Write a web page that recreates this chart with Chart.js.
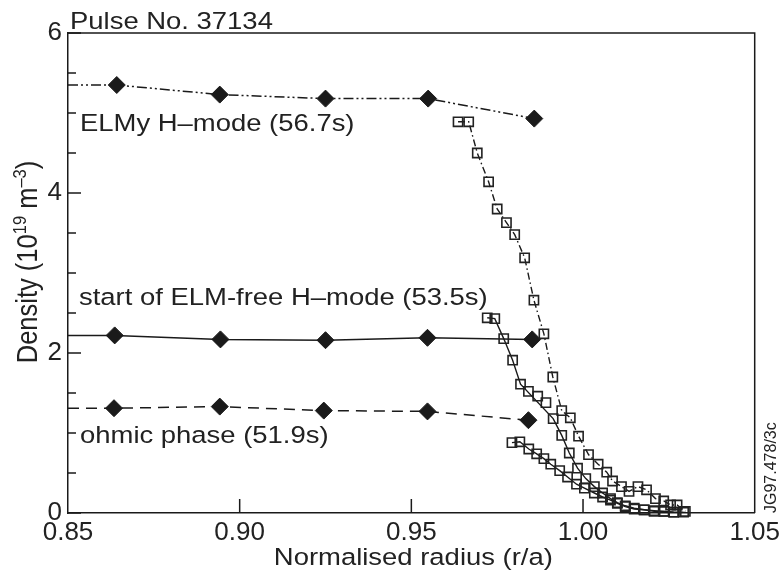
<!DOCTYPE html>
<html>
<head>
<meta charset="utf-8">
<script src="https://cdn.jsdelivr.net/npm/chart.js@4.4.1/dist/chart.umd.min.js"></script>
<style>
  body { margin: 0; background: #fff; }
  #wrap { width: 784px; height: 580px; }
</style>
</head>
<body>
<div id="wrap"><canvas id="grafico" width="784" height="580"></canvas></div>
<script>
// axis ticks
const xTicks = [0.85, 0.90, 0.95, 1.00, 1.05];
const xTickLabels = ['0.85', '0.90', '0.95', '1.00', '1.05'];
const yTicks = [0, 2, 4, 6];
const yTickLabels = ['0', '2', '4', '6'];
const yMinorTicks = [0.5, 1, 1.5, 2.5, 3, 3.5, 4.5, 5, 5.5];

// diamonds (first entry is where the line meets the axis, no marker)
const elmyDiamondX = [0.85, 0.8642, 0.8942, 0.9250, 0.9549, 0.9858];
const elmyDiamondY = [5.35, 5.35, 5.23, 5.18, 5.18, 4.93];
const freeDiamondX = [0.85, 0.8636, 0.8944, 0.9250, 0.9547, 0.9852];
const freeDiamondY = [2.22, 2.22, 2.17, 2.16, 2.19, 2.17];
const ohmicDiamondX = [0.85, 0.8634, 0.8942, 0.9245, 0.9547, 0.9841];
const ohmicDiamondY = [1.31, 1.31, 1.33, 1.28, 1.27, 1.16];

// edge profile squares
const elmySquareX = [0.9636, 0.9667, 0.9692, 0.9725, 0.9750, 0.9777, 0.9801, 0.9830, 0.9857, 0.9886,
  0.9912, 0.9938, 0.9963, 0.9987, 1.0016, 1.0044, 1.0069, 1.0086, 1.0112, 1.0134,
  1.0160, 1.0185, 1.0211, 1.0235, 1.0255, 1.0274, 1.0298];
const elmySquareY = [4.89, 4.89, 4.50, 4.14, 3.80, 3.63, 3.48, 3.19, 2.66, 2.24,
  1.70, 1.28, 1.19, 0.96, 0.73, 0.61, 0.51, 0.40, 0.33, 0.27,
  0.33, 0.29, 0.18, 0.15, 0.10, 0.10, 0.02];

const freeSquareX = [0.9721, 0.9743, 0.9769, 0.9795, 0.9818, 0.9913, 0.9938, 0.9960, 0.9984, 1.0008,
  1.0033, 1.0057, 1.0080, 1.0100, 1.0123, 1.0149, 1.0178, 1.0207, 1.0236, 1.0264];
const freeSquareY = [2.44, 2.43, 2.18, 1.91, 1.61, 1.18, 0.97, 0.75, 0.56, 0.43,
  0.33, 0.25, 0.18, 0.13, 0.09, 0.06, 0.04, 0.03, 0.02, 0.01];
const freeExtraX = [0.9841, 0.9868, 0.9892];
const freeExtraY = [1.52, 1.46, 1.38];

const ohmicSquareX = [0.9793, 0.9816, 0.9842, 0.9865, 0.9886, 0.9906, 0.9932, 0.9955, 0.9981, 1.0004,
  1.0033, 1.0057, 1.0080, 1.0100, 1.0123, 1.0149, 1.0178, 1.0207, 1.0236, 1.0264, 1.0293];
const ohmicSquareY = [0.88, 0.89, 0.80, 0.74, 0.68, 0.61, 0.53, 0.45, 0.36, 0.31,
  0.25, 0.20, 0.16, 0.12, 0.08, 0.05, 0.04, 0.02, 0.02, 0.01, 0.01];

const anotacoes = [
  { texto: 'Pulse No. 37134', x: 70, y: 29 },
  { texto: 'ELMy H\u2013mode (56.7s)', x: 80, y: 131 },
  { texto: 'start of ELM-free H\u2013mode (53.5s)', x: 79, y: 305 },
  { texto: 'ohmic phase (51.9s)', x: 80, y: 443 }
];

const tinta = '#1a1a1a';
const fonte = '"Liberation Sans", Arial, Helvetica, sans-serif';
const esticar = 1.12; // the scanned figure is a bit wider than tall

function pontos(xs, ys) {
  return xs.map((x, i) => ({ x: x, y: ys[i] }));
}

function diamante(xs, ys, dash) {
  return {
    data: pontos(xs, ys),
    showLine: true,
    borderColor: tinta,
    borderWidth: 1.5,
    borderDash: dash,
    backgroundColor: tinta,
    pointStyle: 'rectRot',
    pointRadius: xs.map((x, i) => i === 0 ? 0 : 8.5),
    pointBorderWidth: 1,
    clip: false
  };
}

function quadrado(xs, ys, dash, linha) {
  return {
    data: pontos(xs, ys),
    showLine: linha,
    borderColor: tinta,
    borderWidth: 1.4,
    borderDash: dash,
    backgroundColor: 'rgba(0,0,0,0)',
    pointStyle: 'rect',
    pointRadius: 6.5,
    pointBorderWidth: 1.6,
    pointBorderColor: '#222',
    clip: false
  };
}

function texto(c, s, x, y, alinhar) {
  c.save();
  c.translate(x, y);
  c.scale(esticar, 1);
  c.textAlign = alinhar;
  c.fillText(s, 0, 0);
  c.restore();
}

const enfeites = {
  id: 'enfeites',
  afterDraw(chart) {
    const c = chart.ctx;
    const a = chart.chartArea;
    const sx = chart.scales.x;
    const sy = chart.scales.y;
    c.save();
    c.strokeStyle = tinta;
    c.lineWidth = 1.5;
    // frame top and right
    c.beginPath();
    c.moveTo(a.left, a.top);
    c.lineTo(a.right, a.top);
    c.lineTo(a.right, a.bottom);
    c.stroke();
    // inside ticks
    c.beginPath();
    yTicks.forEach(v => {
      const p = sy.getPixelForValue(v);
      c.moveTo(a.left, p); c.lineTo(a.left + 13, p);
    });
    yMinorTicks.forEach(v => {
      const p = sy.getPixelForValue(v);
      c.moveTo(a.left, p); c.lineTo(a.left + 8, p);
    });
    xTicks.slice(1, -1).forEach(v => {
      const p = sx.getPixelForValue(v);
      c.moveTo(p, a.bottom); c.lineTo(p, a.bottom - 14);
    });
    c.stroke();

    c.fillStyle = '#222';
    c.textBaseline = 'alphabetic';
    c.font = '24.5px ' + fonte;
    anotacoes.forEach(t => texto(c, t.texto, t.x, t.y, 'left'));

    // x axis title
    texto(c, 'Normalised radius (r/a)', (a.left + a.right) / 2 + 2, 565, 'center');

    // y axis title with superscripts
    const partes = [
      { s: 'Density (10', sup: false },
      { s: '19', sup: true },
      { s: ' m', sup: false },
      { s: '\u20133', sup: true },
      { s: ')', sup: false }
    ];
    const fN = '25.5px ' + fonte, fS = '16.5px ' + fonte;
    let total = 0;
    partes.forEach(p => { c.font = p.sup ? fS : fN; p.w = c.measureText(p.s).width; total += p.w; });
    c.translate(37, 262);
    c.rotate(-Math.PI / 2);
    c.scale(1, esticar);
    c.textAlign = 'left';
    let pos = -total / 2;
    partes.forEach(p => {
      c.font = p.sup ? fS : fN;
      c.fillText(p.s, pos, p.sup ? -10 : 0);
      pos += p.w;
    });
    c.restore();

    // figure reference
    c.save();
    c.fillStyle = '#222';
    c.font = '16px ' + fonte;
    c.translate(776, 513);
    c.rotate(-Math.PI / 2);
    c.textAlign = 'left';
    c.fillText('JG97.478/3c', 0, 0);
    c.restore();
  }
};

const ctx = document.getElementById('grafico');

new Chart(ctx, {
  type: 'scatter',
  data: {
    datasets: [
      quadrado(elmySquareX, elmySquareY, [7, 3, 1.5, 3], true),
      quadrado(freeSquareX, freeSquareY, [], true),
      quadrado(freeExtraX, freeExtraY, [], false),
      quadrado(ohmicSquareX, ohmicSquareY, [], true),
      diamante(elmyDiamondX, elmyDiamondY, [10, 3, 2, 3, 2, 3]),
      diamante(freeDiamondX, freeDiamondY, []),
      diamante(ohmicDiamondX, ohmicDiamondY, [11, 7])
    ]
  },
  options: {
    responsive: false,
    devicePixelRatio: 1,
    animation: false,
    layout: { padding: { top: 33, right: 26, left: 0, bottom: 0 } },
    plugins: { legend: { display: false }, tooltip: { enabled: false } },
    scales: {
      x: {
        type: 'linear',
        min: 0.85,
        max: 1.05,
        afterBuildTicks: s => { s.ticks = xTicks.map(v => ({ value: v })); },
        afterFit: s => { s.height = 67; },
        grid: { display: false, drawTicks: false },
        border: { display: true, color: tinta, width: 1.5 },
        ticks: {
          autoSkip: false,
          maxRotation: 0,
          padding: 4,
          color: '#222',
          font: { family: fonte, size: 26 },
          callback: (v, i) => xTickLabels[i]
        }
      },
      y: {
        type: 'linear',
        min: 0,
        max: 6,
        afterBuildTicks: s => { s.ticks = yTicks.map(v => ({ value: v })); },
        afterFit: s => { s.width = 68; },
        grid: { display: false, drawTicks: false },
        border: { display: true, color: tinta, width: 1.5 },
        ticks: {
          padding: 6,
          color: '#222',
          font: { family: fonte, size: 26 },
          callback: (v, i) => yTickLabels[i]
        }
      }
    }
  },
  plugins: [enfeites]
});
</script>
</body>
</html>
